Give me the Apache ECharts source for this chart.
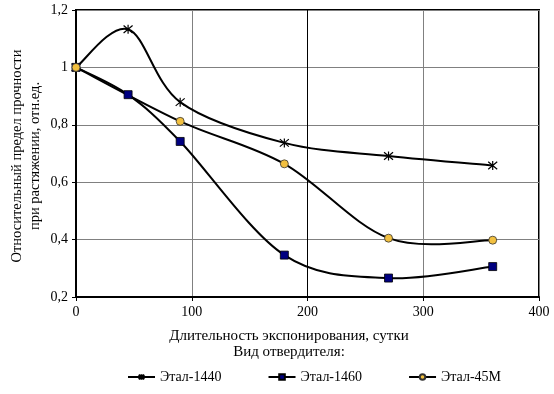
<!DOCTYPE html>
<html><head><meta charset="utf-8">
<script src="https://cdn.jsdelivr.net/npm/echarts@6/dist/echarts.min.js"></script>
<style>html,body{margin:0;padding:0;background:#fff}#c{width:554px;height:394px}</style>
</head><body><div id="c"></div>
<script>
var days = [0, 45, 90, 180, 270, 360];
var days45M = [0, 90, 180, 270, 360];
var etal1440 = [1.0, 1.133, 0.879, 0.737, 0.691, 0.658];
var etal1460 = [1.0, 0.905, 0.742, 0.346, 0.266, 0.306];
var etal45M  = [1.0, 0.812, 0.664, 0.405, 0.398];
var seriesNames = ['Этал-1440', 'Этал-1460', 'Этал-45М'];
var xTitle = ['Длительность экспонирования, сутки', 'Вид отвердителя:'];
var yTitle = ['Относительный предел прочности', 'при растяжении, отн.ед.'];

function pairs(xs, vals){ return xs.map(function(d,i){ return [d, vals[i]]; }); }
var font = 'Liberation Serif';
var star = 'path://M0,0L10,10M10,0L0,10M5,-1L5,11';

// Excel-style smoothed curve (Catmull-Rom -> cubic Bezier) in pixel space via axis scales
function splineSeries(xs, vals){
  var pts = pairs(xs, vals);
  return {
    type:'custom', silent:true, data:[pts[0]], z:1,
    renderItem:function(params, api){
      var p = pts.map(function(d){ return api.coord(d); });
      var n = p.length, path = 'M' + p[0][0] + ',' + p[0][1];
      for (var i = 0; i < n - 1; i++){
        var p0 = p[Math.max(i-1,0)], p1 = p[i], p2 = p[i+1], p3 = p[Math.min(i+2,n-1)];
        var c1x = p1[0] + (p2[0]-p0[0])/6, c1y = p1[1] + (p2[1]-p0[1])/6;
        var c2x = p2[0] - (p3[0]-p1[0])/6, c2y = p2[1] - (p3[1]-p1[1])/6;
        path += 'C' + c1x + ',' + c1y + ',' + c2x + ',' + c2y + ',' + p2[0] + ',' + p2[1];
      }
      return {type:'path', shape:{pathData:path}, style:{fill:'none', stroke:'#000', lineWidth:2}};
    }
  };
}

var chart = echarts.init(document.getElementById('c'), null, {renderer:'canvas'});
var legLine = {color:'#000', width:2, opacity:1};
chart.setOption({
  animation:false,
  backgroundColor:'#fff',
  textStyle:{fontFamily:font},
  grid:{left:76, right:15, top:10, bottom:97, show:true, borderColor:'#000', borderWidth:2},
  xAxis:{type:'value', min:0, max:400, interval:100,
    axisLine:{show:true, onZero:false, lineStyle:{color:'#000', width:2}},
    axisTick:{show:true, length:4, lineStyle:{color:'#000'}},
    axisLabel:{color:'#000', fontSize:14, fontFamily:font, margin:8},
    splitLine:{show:true, lineStyle:{color:'#808080', width:1}}},
  yAxis:{type:'value', min:0.2, max:1.2, interval:0.2,
    axisLine:{show:true, onZero:false, lineStyle:{color:'#000', width:2}},
    axisTick:{show:true, length:4, lineStyle:{color:'#000'}},
    axisLabel:{color:'#000', fontSize:14, fontFamily:font, margin:8,
      formatter:function(v){ return (Math.round(v*10)/10).toString().replace('.', ','); }},
    splitLine:{show:true, lineStyle:{color:'#808080', width:1}}},
  legend:{bottom:5, left:122, itemWidth:27, itemHeight:7, itemGap:46,
    textStyle:{color:'#000', fontSize:14, fontFamily:font},
    data:seriesNames.map(function(n){ return {name:n, lineStyle:legLine}; })},
  graphic:[
    {type:'text', x:289, y:336, style:{text:xTitle[0], font:'15px "Liberation Serif"', fill:'#000', align:'center', verticalAlign:'middle'}},
    {type:'text', x:289, y:352, style:{text:xTitle[1], font:'15px "Liberation Serif"', fill:'#000', align:'center', verticalAlign:'middle'}},
    {type:'text', x:17, y:156, rotation:Math.PI/2, style:{text:yTitle[0], font:'14.5px "Liberation Serif"', fill:'#000', align:'center', verticalAlign:'middle'}},
    {type:'text', x:35, y:156, rotation:Math.PI/2, style:{text:yTitle[1], font:'14.5px "Liberation Serif"', fill:'#000', align:'center', verticalAlign:'middle'}}
  ],
  series:[
    splineSeries(days, etal1440), splineSeries(days, etal1460), splineSeries(days45M, etal45M),
    {name:seriesNames[0], type:'line', data:pairs(days, etal1440), z:3,
      symbol:star, symbolSize:9,
      lineStyle:{color:'#000', width:0, opacity:0},
      itemStyle:{color:'rgba(0,0,0,0)', borderColor:'#000', borderWidth:1.2},
      markLine:{silent:true, symbol:'none', label:{show:false}, lineStyle:{color:'#000', width:1, type:'solid'}, data:[{xAxis:200}]}},
    {name:seriesNames[1], type:'line', data:pairs(days, etal1460), z:3,
      symbol:'rect', symbolSize:8,
      lineStyle:{color:'#000', width:0, opacity:0},
      itemStyle:{color:'#000080', borderColor:'#000', borderWidth:0.8}},
    {name:seriesNames[2], type:'line', data:pairs(days45M, etal45M), z:3,
      symbol:'circle', symbolSize:8,
      lineStyle:{color:'#000', width:0, opacity:0},
      itemStyle:{color:'#F2C040', borderColor:'#333', borderWidth:0.8}}
  ]
});
</script></body></html>
